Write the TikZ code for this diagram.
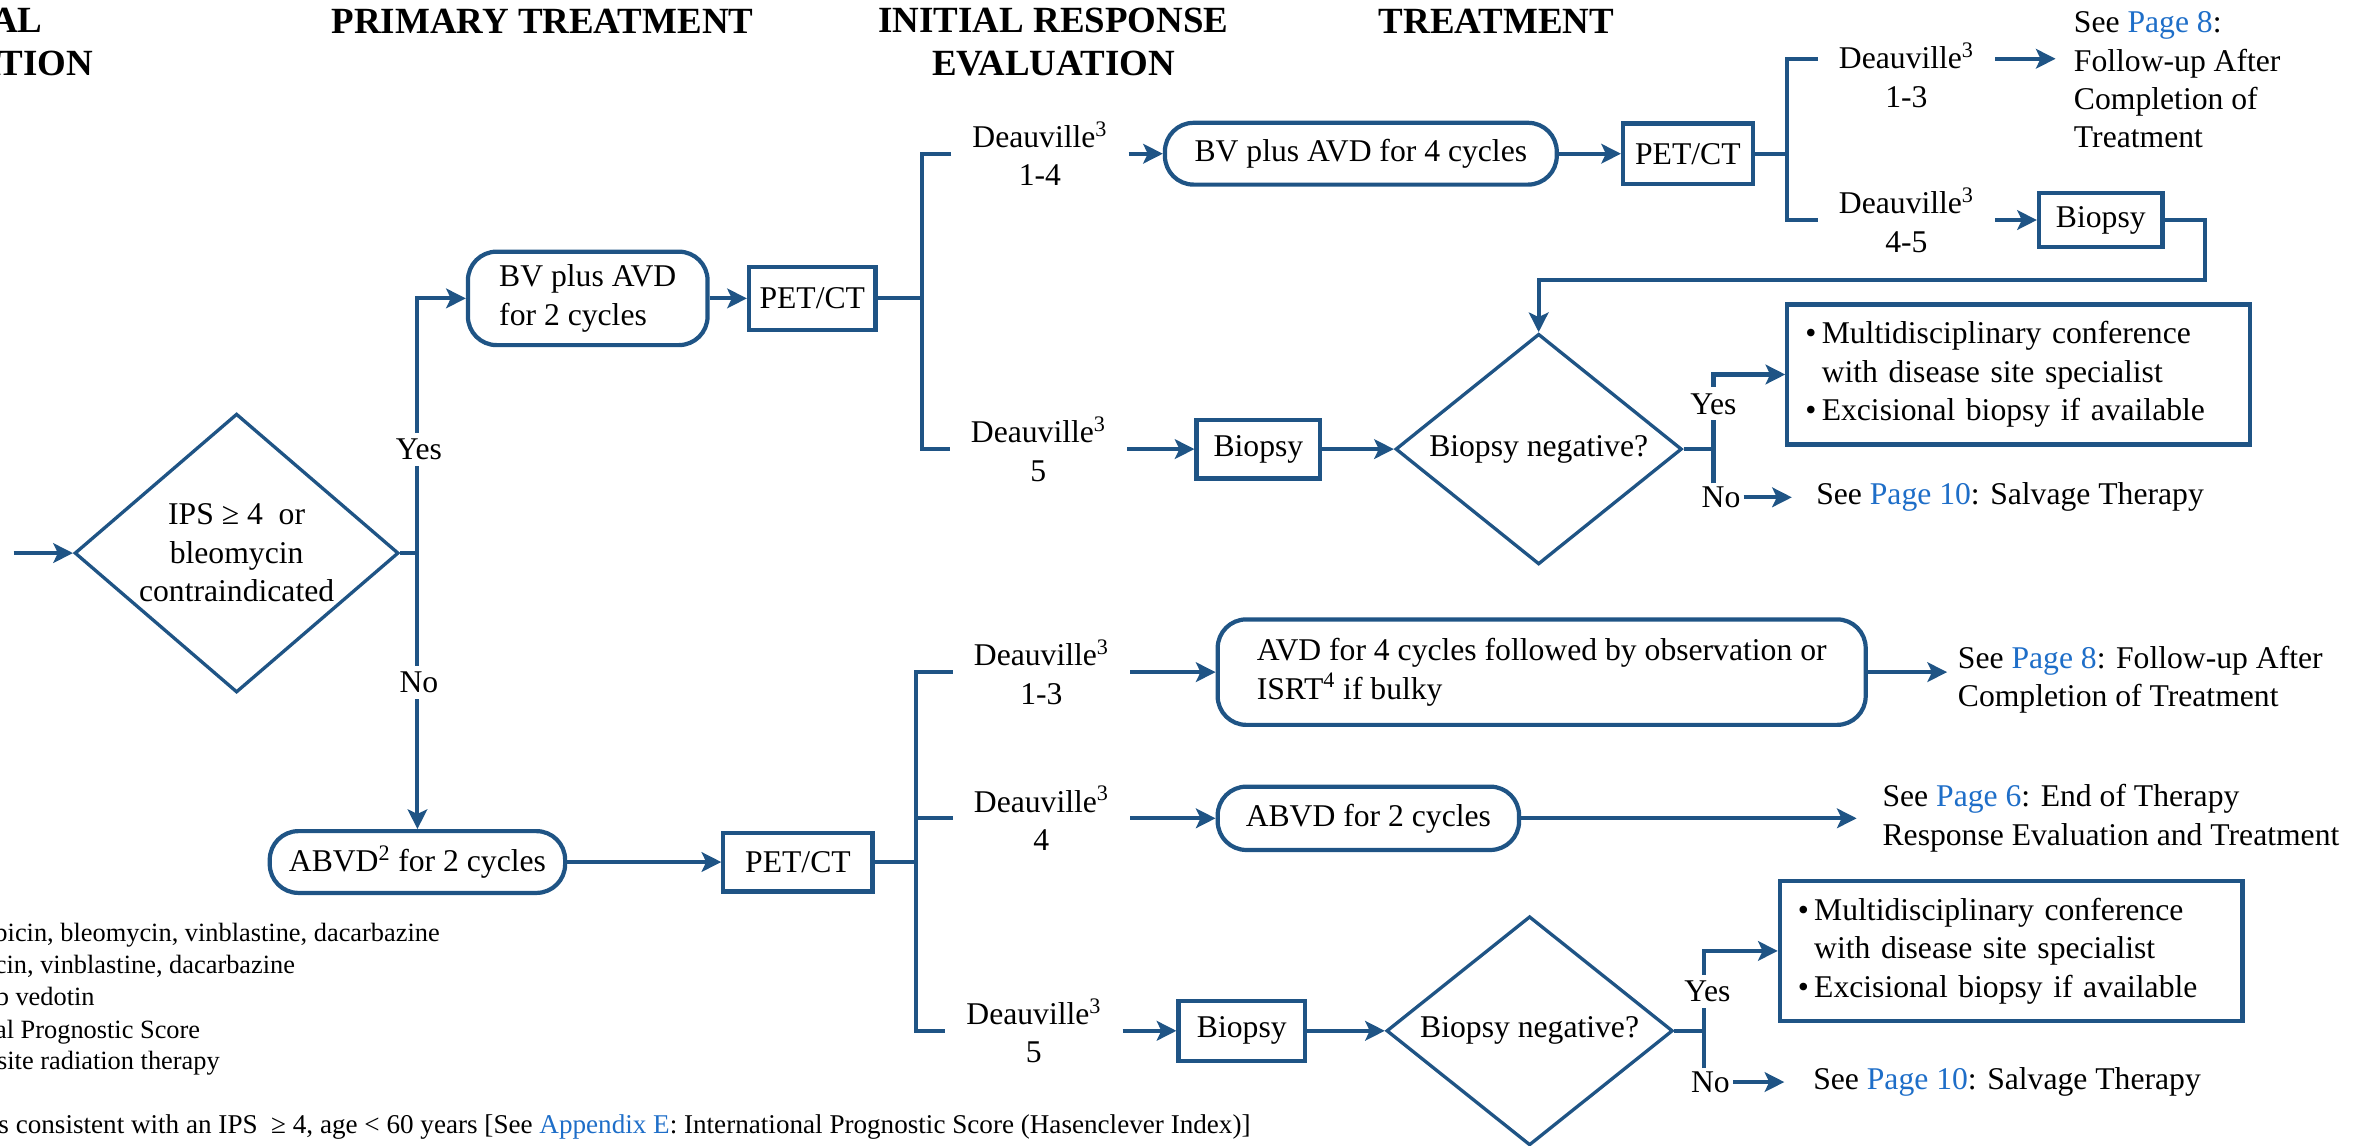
\documentclass[tikz,border=0pt]{standalone}
\usepackage{fontspec}
\setmainfont{Liberation Serif}
\usetikzlibrary{arrows.meta,positioning,shapes.geometric}
\definecolor{flowblue}{RGB}{31,84,133}
\definecolor{linkblue}{RGB}{30,110,200}
\newcommand{\pglink}[1]{\textcolor{linkblue}{#1}}
\newcommand{\deau}[1]{Deauville\textsuperscript{3}\\#1}
\tikzset{
    %Define standard arrow tip
    >={Stealth[length=13pt,width=13pt,inset=3pt]},
    %Define style for boxes
    roundbox/.style={
           rectangle,
           rounded corners=19pt,
           draw=flowblue, line width=2.8pt,
           align=left},
    sqbox/.style={
           rectangle,
           draw=flowblue, line width=2.8pt,
           align=center},
    notebox/.style={
           rectangle,
           draw=flowblue, line width=2.8pt,
           text width=283pt, inner xsep=12pt,
           minimum height=93pt,
           align=left},
    decision/.style={
           diamond, aspect=1.2,
           draw=flowblue, line width=2.2pt,
           inner sep=0pt,
           align=center},
    score/.style={align=center, inner xsep=14pt, inner ysep=2pt},
    answer/.style={fill=white, inner sep=4pt},
    seetext/.style={anchor=west, align=left},
    header/.style={font=\bfseries\fontsize{24.5}{28.5}\selectfont, align=center},
    footnote/.style={font=\fontsize{17.5}{21}\selectfont, anchor=base east, inner sep=0pt},
    % Define arrow style
    pil/.style={->, draw=flowblue, line width=2.7pt},
    stem/.style={draw=flowblue, line width=2.7pt}
}

\begin{document}
\begin{tikzpicture}[x=1pt,y=-1pt,font=\fontsize{21}{25.5}\selectfont]
\useasboundingbox (0,0) rectangle (1568,760);
\clip (0,0) rectangle (1568,760);
 %headers
\node[header] (hclin) at (-33,28) {CLINICAL\\PRESENTATION};
\node[header] (hprim) at (360,14) {PRIMARY TREATMENT};
\node[header] (hinit) at (699,28) {INITIAL RESPONSE\\EVALUATION};
\node[header] (htreat) at (993,14) {TREATMENT};

 %decision
\coordinate (entry) at (9,367);
\node[decision, minimum width=215pt, minimum height=185pt] (ips) at (157,367) {IPS ≥ 4\ \ or\\bleomycin\\contraindicated};
\coordinate (yesno) at (277,367);
\node[roundbox, minimum width=159pt, minimum height=62pt] (bvtwo) at (390,198) {BV plus AVD\\for 2 cycles};
\node[roundbox, minimum width=196pt, minimum height=41pt] (abvdtwo) at (277,572) {ABVD\textsuperscript{2} for 2 cycles};
\draw[pil] (entry) -- (ips);
\draw[stem] (ips) -- (yesno);
\draw[pil] (yesno) |- (bvtwo);
\draw[pil] (yesno) -- (abvdtwo);
\node[answer] at (278,298) {Yes};
\node[answer] at (278,453) {No};

 %upper branch
\node[sqbox, minimum width=84pt, minimum height=42pt] (petone) at (539,198) {PET/CT};
\coordinate (forkone) at (612,198);
\node[score] (dvonefour) at (690,102) {\deau{1-4}};
\node[score] (dvfivea) at (689,298) {\deau{5}};
\draw[pil] (bvtwo) -- (petone);
\draw[stem] (petone) -- (forkone);
\draw[stem] (dvonefour.west) -| (forkone) |- (dvfivea.west);

\node[roundbox, minimum width=260pt, minimum height=41pt] (bvfour) at (903,102) {BV plus AVD for 4 cycles};
\node[sqbox, minimum width=86pt, minimum height=40pt] (pettwo) at (1120,102) {PET/CT};
\draw[pil] (dvonefour) -- (bvfour);
\draw[pil] (bvfour) -- (pettwo);
\coordinate (forktwo) at (1186,102);
\node[score] (dvonethree) at (1265,50) {\deau{1-3}};
\node[score] (dvfourfive) at (1265,146) {\deau{4-5}};
\coordinate (stubonethree) at ([yshift=11pt]dvonethree.west);
\coordinate (tailonethree) at ([yshift=11pt]dvonethree.east);
\draw[stem] (pettwo) -- (forktwo);
\draw[stem] (stubonethree) -| (forktwo) |- (dvfourfive.west);
\node[seetext, inner xsep=12pt] (followa) at (1364,53) {See \pglink{Page 8}:\\Follow-up After\\Completion of\\Treatment};
\draw[pil] (tailonethree) -- (tailonethree -| followa.west);

\node[sqbox, minimum width=82pt, minimum height=36pt] (biopsya) at (1394,146) {Biopsy};
\draw[pil] (dvfourfive) -- (biopsya);
\coordinate (bend) at (1463,186);
\node[decision, aspect=1.24, minimum width=190pt, minimum height=153pt] (negone) at (1021,298) {Biopsy negative?};
\draw[pil] (biopsya) -| (bend) -| (negone);

\node[sqbox, minimum width=82pt, minimum height=39pt] (biopsyb) at (835,298) {Biopsy};
\draw[pil] (dvfivea) -- (biopsyb);
\draw[pil] (biopsyb) -- (negone);
\coordinate (forkthree) at (1137,298);
\node[notebox] (mdtopa) at (1339.5,248.5) {\textbullet\,Multidisciplinary conference\\\phantom{\textbullet\,}with disease site specialist\\\textbullet\,Excisional biopsy if available};
\node[answer, inner sep=2pt] (noa) at (1142,330) {No};
\draw[stem] (negone) -- (forkthree);
\draw[pil] (forkthree |- noa.north) -- (forkthree) |- (mdtopa);
\node[answer] (yesa) at (1137,268) {Yes};
\node[seetext, inner xsep=16pt] (salvagea) at (1189,330) {See \pglink{Page 10}: Salvage Therapy};
\draw[pil] (noa) -- (salvagea);

 %lower branch
\node[sqbox, minimum width=99pt, minimum height=39pt] (petthree) at (529.5,572) {PET/CT};
\draw[pil] (abvdtwo) -- (petthree);
\coordinate (forkfour) at (608,572);
\node[score] (dvonethreeb) at (691,446) {\deau{1-3}};
\node[score] (dvfour) at (691,543) {\deau{4}};
\node[score] (dvfiveb) at (686,684) {\deau{5}};
\draw[stem] (petthree) -- (forkfour);
\draw[stem] (dvonethreeb.west) -| (forkfour) |- (dvfiveb.west);
\draw[stem] (dvfour.west) -- (dvfour.west -| forkfour);

\node[roundbox, minimum width=430pt, minimum height=70pt] (avdfour) at (1023,446) {AVD for 4 cycles followed by observation or\\ISRT\textsuperscript{4} if bulky};
\node[seetext, inner xsep=7pt] (followb) at (1292,451) {See \pglink{Page 8}: Follow-up After\\Completion of Treatment};
\draw[pil] (dvonethreeb) -- (avdfour);
\draw[pil] (avdfour) -- (followb.west |- avdfour);

\node[roundbox, minimum width=200pt, minimum height=42pt] (abvdtwob) at (908,543) {ABVD for 2 cycles};
\node[seetext, inner xsep=17pt] (endtherapy) at (1232,543) {See \pglink{Page 6}: End of Therapy\\Response Evaluation and Treatment};
\draw[pil] (dvfour) -- (abvdtwob);
\draw[pil] (abvdtwob) -- (endtherapy);

\node[sqbox, minimum width=84pt, minimum height=40pt] (biopsyc) at (824,684) {Biopsy};
\node[decision, aspect=1.24, minimum width=190pt, minimum height=152pt] (negtwo) at (1015,684) {Biopsy negative?};
\draw[pil] (dvfiveb) -- (biopsyc);
\draw[pil] (biopsyc) -- (negtwo);
\coordinate (forkfive) at (1131,684);
\node[notebox] (mdtopb) at (1334.5,631) {\textbullet\,Multidisciplinary conference\\\phantom{\textbullet\,}with disease site specialist\\\textbullet\,Excisional biopsy if available};
\node[answer, inner sep=2pt] (nob) at (1135,718) {No};
\draw[stem] (negtwo) -- (forkfive);
\draw[pil] (forkfive |- nob.north) -- (forkfive) |- (mdtopb);
\node[answer] (yesb) at (1133,658) {Yes};
\node[seetext, inner xsep=19pt] (salvageb) at (1184,718) {See \pglink{Page 10}: Salvage Therapy};
\draw[pil] (nob) -- (salvageb);

 %footnotes
\node[footnote] (fnabvd) at (292,625) {ABVD: doxorubicin, bleomycin, vinblastine, dacarbazine};
\node[footnote] (fnavd) at (196,646) {AVD: doxorubicin, vinblastine, dacarbazine};
\node[footnote] (fnbv) at (63,667) {BV: brentuximab vedotin};
\node[footnote] (fnips) at (133,689) {IPS: International Prognostic Score};
\node[footnote] (fnisrt) at (146,710) {ISRT: involved site radiation therapy};
\node[footnote, font=\fontsize{18}{21}\selectfont] (fnrisk) at (830,752) {\textsuperscript{1}High risk disease is consistent with an IPS\ \ ≥ 4, age < 60 years [See \pglink{Appendix E}: International Prognostic Score (Hasenclever Index)]};
\end{tikzpicture}
\end{document}
